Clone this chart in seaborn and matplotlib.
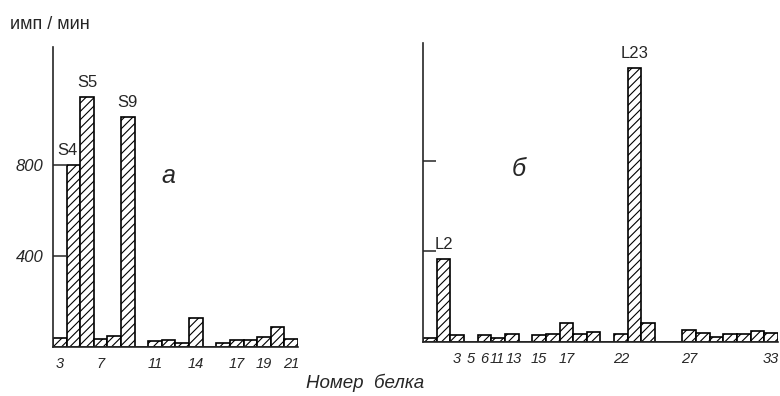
import matplotlib
matplotlib.use('Agg')
import matplotlib.pyplot as plt
import matplotlib.transforms as mtransforms
import pandas as pd
import seaborn as sns

# Ribosomal proteins of the small (a) and large (б) subunit
small_proteins = ['3', '4', '5', '7', '8', '9', '10', '11', '12', '13', '14', '15',
                  '16', '17', '18', '19', '20', '21']
small_cpm = [40, 800, 1100, 35, 50, 1010, 0, 25, 30, 18, 127, 0, 18, 30, 30, 45, 88, 35]
small_ticks = ['3', '7', '11', '14', '17', '19', '21']
small_named = {'4': 'S4', '5': 'S5', '9': 'S9'}

large_proteins = ['1', '2', '3', '5', '6', '11', '13', '14', '15', '16', '17', '18', '19',
                  '20', '22', '23', '24', '25', '26', '27', '28', '29', '30', '31', '32', '33']
large_cpm = [18, 365, 30, 0, 30, 18, 35, 0, 30, 35, 85, 35, 45, 0, 35, 1210, 85, 0, 0,
             55, 40, 22, 35, 35, 48, 40]
large_ticks = ['3', '5', '6', '11', '13', '15', '17', '22', '27', '33']
large_named = {'2': 'L2', '23': 'L23'}

y_ticks = [400, 800]

sns.set_style('ticks')
plt.rcParams['font.family'] = ['Liberation Sans', 'DejaVu Sans']
plt.rcParams['hatch.linewidth'] = 0.8

fig = plt.figure(figsize=(7.8, 3.96), dpi=100)
ax1 = fig.add_axes([0.0679, 0.1237, 0.3141, 0.7576])
ax2 = fig.add_axes([0.5423, 0.1364, 0.4551, 0.7550])


def draw_panel(ax, proteins, cpm, ticks, named, nudge=None):
    df = pd.DataFrame({'protein': proteins, 'cpm': cpm})
    sns.barplot(data=df, x='protein', y='cpm', order=proteins, ax=ax, color='white',
                saturation=1, width=1.0, edgecolor='black', linewidth=1.2, hatch='////')
    ax.set_xlim(-0.5, len(proteins) - 0.5)
    ax.set_ylim(0, 1319)
    ax.set_xlabel('')
    ax.set_ylabel('')
    ax.set_xticks(range(len(proteins)))
    ax.set_xticklabels([p if p in ticks else '' for p in proteins],
                       fontsize=10.5, style='italic')
    ax.tick_params(axis='x', length=0, pad=7)
    # crowded labels: push a couple of them apart a little
    for lbl in ax.get_xticklabels():
        dx = (nudge or {}).get(lbl.get_text(), 0)
        if dx:
            lbl.set_transform(lbl.get_transform() +
                              mtransforms.ScaledTranslation(dx / 72, 0, fig.dpi_scale_trans))
    ax.set_yticks(y_ticks)
    ax.tick_params(axis='y', direction='in', length=9, width=1.1, pad=7)
    for side in ['top', 'right']:
        ax.spines[side].set_visible(False)
    for side in ['left', 'bottom']:
        ax.spines[side].set_linewidth(1.2)
    for i, p in enumerate(proteins):
        if p in named:
            ax.annotate(named[p], (i, cpm[i]), xytext=(-4 if p == '4' else 0, 5),
                        textcoords='offset points', ha='center', va='bottom',
                        fontsize=12)


draw_panel(ax1, small_proteins, small_cpm, small_ticks, small_named)
draw_panel(ax2, large_proteins, large_cpm, large_ticks, large_named,
           nudge={'11': -1, '13': 1.5})

ax1.set_yticklabels([str(t) for t in y_ticks], fontsize=12, style='italic')
ax2.set_yticklabels([])

ax1.text(0.47, 0.57, 'a', transform=ax1.transAxes, fontsize=18, style='italic',
         ha='center', va='center')
ax2.text(0.27, 0.58, 'б', transform=ax2.transAxes, fontsize=18, style='italic',
         ha='center', va='center')

fig.text(0.013, 0.937, 'имп / мин', fontsize=13, va='center', ha='left')
fig.text(0.468, 0.033, 'Номер  белка', fontsize=13.5, style='italic', va='center', ha='center')

fig.savefig('out.png', dpi=100)
